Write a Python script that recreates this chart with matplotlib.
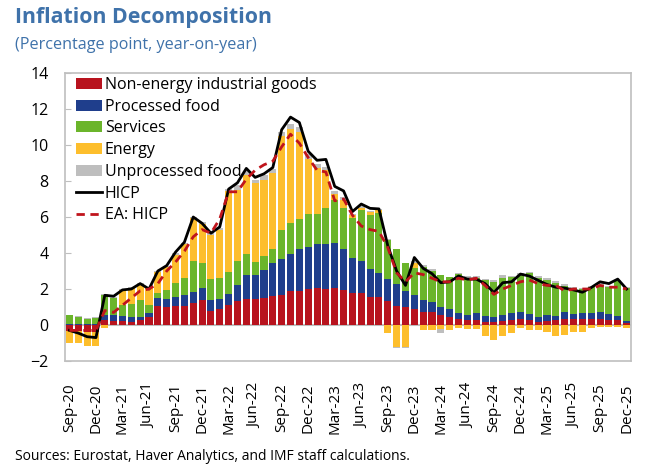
import numpy as np
import pandas as pd
import matplotlib.pyplot as plt
from matplotlib.patches import Patch
from matplotlib.lines import Line2D

plt.rcParams['font.family'] = ['Open Sans', 'DejaVu Sans']

months = pd.date_range('2020-09-01', '2025-12-01', freq='MS')

# contributions, percentage points
neig = [-0.35, -0.35, -0.4, -0.4, 0.3, 0.2, 0.2, 0.15, 0.28, 0.46, 1.03, 1.0,
        1.03, 1.08, 1.2, 1.37, 0.8, 0.87, 1.11, 1.33, 1.44, 1.44, 1.5, 1.62,
        1.67, 1.89, 1.91, 1.98, 2.07, 2.0, 2.07, 1.96, 1.76, 1.76, 1.55, 1.54,
        1.35, 1.06, 0.98, 0.89, 0.74, 0.74, 0.56, 0.46, 0.33, 0.26, 0.3, 0.19,
        0.19, 0.24, 0.28, 0.31, 0.28, 0.19, 0.24, 0.28, 0.31, 0.31, 0.33, 0.33,
        0.33, 0.28, 0.28, 0.1]
processed_food = [0.08, 0.06, 0.05, 0.05, 0.25, 0.35, 0.3, 0.27, 0.18, 0.19, 0.47, 0.47,
                  0.55, 0.57, 0.62, 0.67, 0.59, 0.56, 0.61, 0.87, 1.36, 1.34, 1.58, 1.81,
                  2.01, 2.05, 2.29, 2.37, 2.43, 2.5, 2.48, 2.24, 1.99, 1.81, 1.54, 1.33,
                  1.21, 1.2, 0.91, 0.78, 0.65, 0.56, 0.42, 0.41, 0.36, 0.32, 0.35, 0.31,
                  0.27, 0.32, 0.37, 0.43, 0.32, 0.27, 0.33, 0.24, 0.41, 0.3, 0.32, 0.36,
                  0.39, 0.33, 0.22, 0.12]
services = [0.45, 0.38, 0.3, 0.32, 1.1, 0.95, 0.6, 0.75, 0.93, 0.45, 0.3, 0.5,
            0.77, 0.98, 1.73, 1.39, 1.18, 1.2, 1.22, 1.33, 1.13, 0.74, 0.76, 0.78,
            1.6, 1.74, 1.69, 1.82, 1.67, 1.98, 2.39, 2.28, 2.2, 2.83, 3.02, 3.33,
            2.16, 1.94, 1.54, 1.48, 1.85, 1.72, 1.8, 1.82, 2.14, 2.05, 1.98, 2.0,
            1.95, 2.07, 1.99, 2.05, 2.28, 2.13, 1.93, 1.84, 1.46, 1.45, 1.33, 1.4,
            1.52, 1.49, 1.95, 1.82]
energy = [-0.65, -0.65, -0.75, -0.75, -0.15, 0.0, 0.85, 0.87, 0.89, 0.94, 1.15, 1.23,
          1.53, 1.87, 2.4, 2.17, 2.43, 2.65, 4.51, 3.99, 4.42, 4.35, 4.22, 4.21,
          5.22, 5.22, 4.81, 3.03, 2.53, 2.12, 0.36, 0.46, 0.15, 0.1, 0.19, 0.18,
          -0.46, -1.2, -1.2, 0.28, -0.28, -0.28, -0.2, -0.25, -0.15, -0.2, -0.24, -0.63,
          -0.82, -0.6, -0.46, -0.15, -0.28, -0.28, -0.37, -0.62, -0.55, -0.37, -0.37, -0.19,
          -0.12, -0.1, -0.1, -0.19]
unprocessed_food = [0.05, 0.05, 0.05, 0.05, 0.05, 0.07, 0.05, 0.05, 0.05, 0.05, 0.05, 0.08,
                    0.1, 0.08, 0.05, 0.1, 0.15, 0.12, 0.08, 0.25, 0.2, 0.2, 0.25, 0.23,
                    0.25, 0.25, 0.3, 0.3, 0.25, 0.15, 0.15, 0.19, 0.08, 0.1, 0.05, 0.05,
                    0.05, -0.07, -0.05, 0.15, 0.08, 0.1, -0.26, -0.05, 0.05, 0.08, 0.08, 0.08,
                    0.08, 0.15, 0.08, 0.08, 0.08, 0.13, 0.09, 0.08, 0.08, 0.07, 0.06, 0.08,
                    0.07, 0.07, 0.05, 0.05]
hicp = [-0.3, -0.45, -0.65, -0.7, 1.65, 1.6, 1.95, 2.0, 2.3, 2.0, 3.0, 3.3,
        4.05, 4.6, 6.0, 5.65, 5.1, 5.45, 7.55, 7.9, 8.7, 8.2, 8.4, 8.75,
        10.85, 11.55, 11.25, 9.65, 9.15, 9.2, 7.7, 7.45, 6.3, 6.72, 6.48, 6.45,
        4.4, 3.0, 2.2, 3.75, 3.15, 2.85, 2.35, 2.4, 2.72, 2.55, 2.55, 2.3,
        1.8, 2.35, 2.4, 2.83, 2.72, 2.48, 2.25, 2.1, 2.05, 1.95, 1.82, 2.08,
        2.4, 2.3, 2.55, 2.0]
ea_hicp = [-0.3, -0.3, -0.3, -0.3, 0.8, 0.7, 1.1, 1.5, 1.9, 2.0, 2.3, 3.0,
           3.5, 4.1, 4.9, 5.3, 5.1, 5.9, 7.4, 7.4, 8.1, 8.6, 8.9, 9.1,
           9.9, 10.6, 10.1, 9.3, 8.6, 8.5, 6.9, 7.0, 6.1, 5.5, 5.3, 5.2,
           4.3, 2.9, 2.4, 2.9, 2.8, 2.6, 2.4, 2.4, 2.6, 2.5, 2.6, 2.2,
           1.7, 2.0, 2.2, 2.4, 2.5, 2.3, 2.2, 2.2, 1.9, 2.0, 2.0, 2.0,
           2.2, 2.1, 2.1, 2.0]

series = [
    ('Non-energy industrial goods', neig, '#B8131E'),
    ('Processed food', processed_food, '#1F3E8C'),
    ('Services', services, '#6BB52B'),
    ('Energy', energy, '#FDBE2C'),
    ('Unprocessed food', unprocessed_food, '#BEBEBE'),
]

x = np.arange(len(months))
tick_idx = x[::3]
tick_labels = [m.strftime('%b-%y') for m in months[::3]]

fig = plt.figure(figsize=(6.64, 4.72), dpi=100)
ax = fig.add_axes([65 / 664, 111 / 472, 566 / 664, 288 / 472])

pos_bottom = np.zeros(len(x))
neg_bottom = np.zeros(len(x))
handles = []
for name, vals, col in series:
    v = np.array(vals)
    bottom = np.where(v >= 0, pos_bottom, neg_bottom)
    ax.bar(x, v, width=0.8, bottom=bottom, color=col, linewidth=0, zorder=2)
    pos_bottom += np.clip(v, 0, None)
    neg_bottom += np.clip(v, None, 0)
    handles.append(Patch(facecolor=col, label=name))

ax.axhline(0, color='#BFBFBF', lw=1.5, zorder=1)
ax.plot(x, hicp, color='black', lw=2, zorder=4)
ax.plot(x, ea_hicp, color='#C0141C', lw=2, ls=(0, (3, 2)), zorder=5)
handles.append(Line2D([], [], color='black', lw=2, label='HICP'))
handles.append(Line2D([], [], color='#C0141C', lw=2, ls=(0, (3, 2)), label='EA: HICP'))

ax.set_xlim(-0.5, len(x) - 0.5)
ax.set_ylim(-2, 14)
ax.set_yticks(range(-2, 15, 2))
ax.set_xticks(tick_idx)
ax.set_xticklabels(tick_labels, rotation=90)
ax.tick_params(axis='y', direction='in', length=4, color='#BFBFBF', pad=12, labelsize=11.5)
ax.tick_params(axis='x', length=0, pad=16, labelsize=11)
for s in ax.spines.values():
    s.set_color('#BFBFBF')
    s.set_linewidth(1.2)

ax.legend(handles=handles, loc='upper left', bbox_to_anchor=(0, 1.025), frameon=False,
          fontsize=11.5, handlelength=1.6, handleheight=0.7, handletextpad=0.2,
          labelspacing=0.36, borderaxespad=0.3)

blue = '#3F72AA'
fig.text(15 / 664, 1 - 18 / 472, 'Inflation Decomposition', color=blue,
         fontsize=15.3, fontweight='bold', va='center')
fig.text(15 / 664, 1 - 45 / 472, '(Percentage point, year-on-year)', color=blue,
         fontsize=11.6, va='center')
fig.text(15 / 664, 1 - 457 / 472, 'Sources: Eurostat, Haver Analytics, and IMF staff calculations.',
         fontsize=10, va='center')

fig.savefig('out.png', dpi=100)
